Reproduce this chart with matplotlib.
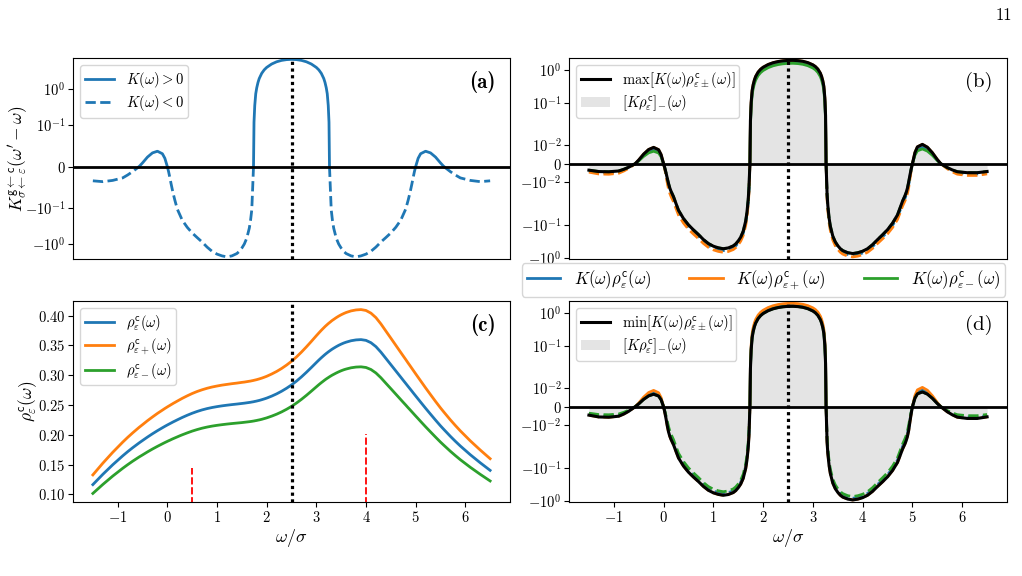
import numpy as np
import matplotlib
matplotlib.use("Agg")
import matplotlib.pyplot as plt
from matplotlib.ticker import FixedLocator, FixedFormatter, NullLocator
from matplotlib.lines import Line2D
from matplotlib.patches import Patch

plt.rcParams['font.family'] = 'serif'
plt.rcParams['font.serif'] = ['cmr10', 'DejaVu Serif']
plt.rcParams['mathtext.fontset'] = 'cm'
plt.rcParams['axes.formatter.use_mathtext'] = True
plt.rcParams['axes.unicode_minus'] = True

# ---------------- data ----------------
omega = [-1.5, -1.3, -1.1, -0.9, -0.8, -0.7, -0.57, -0.5, -0.4, -0.3, -0.2, -0.1, -0.05,
         0.0, 0.025, 0.05, 0.075, 0.1, 0.125, 0.15, 0.2, 0.25, 0.3, 0.4, 0.5, 0.6, 0.7, 0.8,
         0.9, 1.0, 1.1, 1.2, 1.3, 1.4, 1.45, 1.5, 1.55, 1.6, 1.65, 1.675, 1.7, 1.715,
         1.735, 1.745, 1.76, 1.78, 1.8, 1.825, 1.85, 1.9, 1.95, 2.0, 2.1, 2.2, 2.3, 2.4,
         2.5,
         2.6, 2.7, 2.8, 2.9, 3.0, 3.05, 3.1, 3.15, 3.175, 3.2, 3.22, 3.24, 3.255, 3.265,
         3.285, 3.3, 3.325, 3.35, 3.4, 3.45, 3.5, 3.55, 3.6, 3.7, 3.8, 3.9, 4.0, 4.1, 4.2,
         4.3, 4.4, 4.5, 4.6, 4.7, 4.75, 4.8, 4.85, 4.875, 4.9, 4.925, 4.95, 4.975, 5.0,
         5.05, 5.1, 5.2, 5.3, 5.4, 5.5, 5.57, 5.7, 5.8, 5.9, 6.1, 6.3, 6.5]

kernel = [-0.034, -0.036, -0.033, -0.027, -0.020, -0.012, 0.0, 0.009, 0.023, 0.033, 0.037, 0.031, 0.020,
          0.0, -0.012, -0.026, -0.041, -0.055, -0.068, -0.080, -0.105, -0.15, -0.215, -0.34, -0.49, -0.66, -0.88, -1.22,
          -1.60, -1.92, -2.15, -2.29, -2.15, -1.85, -1.6, -1.3, -1.0, -0.68, -0.36, -0.22, -0.11, -0.06,
          0.0, 0.12, 0.35, 0.75, 1.1, 1.55, 2.0, 2.8, 3.5, 4.1, 5.1, 5.9, 6.45, 6.78,
          6.9,
          6.78, 6.45, 5.9, 5.1, 4.1, 3.5, 2.8, 2.0, 1.55, 1.1, 0.75, 0.35, 0.12, 0.0,
          -0.06, -0.11, -0.22, -0.36, -0.68, -1.0, -1.3, -1.6, -1.85, -2.15, -2.29, -2.15, -1.92, -1.60, -1.22,
          -0.88, -0.66, -0.49, -0.34, -0.215, -0.15, -0.105, -0.080, -0.068, -0.055, -0.041, -0.026, -0.012, 0.0,
          0.020, 0.031, 0.037, 0.033, 0.023, 0.009, 0.0, -0.012, -0.020, -0.027, -0.033, -0.036, -0.034]

rho = [0.1163, 0.1335, 0.1496, 0.1645, 0.1715, 0.1781, 0.1862, 0.1903, 0.1961, 0.2016, 0.2068, 0.2117, 0.2141,
       0.2164, 0.2175, 0.2186, 0.2197, 0.2208, 0.2219, 0.2229, 0.2250, 0.2270, 0.2290, 0.2327, 0.2361, 0.2391, 0.2417, 0.2439,
       0.2457, 0.2472, 0.2485, 0.2496, 0.2506, 0.2515, 0.2520, 0.2525, 0.2530, 0.2536, 0.2542, 0.2545, 0.2549, 0.2551,
       0.2554, 0.2556, 0.2559, 0.2562, 0.2566, 0.2571, 0.2576, 0.2588, 0.2601, 0.2615, 0.2648, 0.2686, 0.2730, 0.2780,
       0.2836,
       0.2900, 0.2971, 0.3048, 0.3129, 0.3212, 0.3253, 0.3292, 0.3329, 0.3347, 0.3364, 0.3377, 0.3390, 0.3399, 0.3405,
       0.3417, 0.3426, 0.3440, 0.3453, 0.3478, 0.3501, 0.3521, 0.3539, 0.3554, 0.3578, 0.3592, 0.3597, 0.3584, 0.3545, 0.3479,
       0.3387, 0.3282, 0.3177, 0.3072, 0.2967, 0.2914, 0.2862, 0.2809, 0.2783, 0.2757, 0.2731, 0.2704, 0.2678, 0.2652,
       0.2600, 0.2548, 0.2445, 0.2345, 0.2246, 0.2150, 0.2087, 0.1973, 0.1890, 0.1811, 0.1665, 0.1530, 0.1402]

rho_plus = [0.1326, 0.1522, 0.1705, 0.1875, 0.1955, 0.2030, 0.2123, 0.2169, 0.2236, 0.2298, 0.2358, 0.2413, 0.2441,
            0.2467, 0.2480, 0.2492, 0.2505, 0.2517, 0.2530, 0.2541, 0.2565, 0.2588, 0.2611, 0.2653, 0.2692, 0.2726, 0.2755, 0.2780,
            0.2801, 0.2818, 0.2833, 0.2845, 0.2857, 0.2867, 0.2873, 0.2879, 0.2884, 0.2891, 0.2898, 0.2901, 0.2906, 0.2908,
            0.2912, 0.2914, 0.2917, 0.2921, 0.2925, 0.2931, 0.2937, 0.2950, 0.2965, 0.2981, 0.3019, 0.3062, 0.3112, 0.3169,
            0.3233,
            0.3306, 0.3387, 0.3475, 0.3567, 0.3662, 0.3708, 0.3753, 0.3795, 0.3816, 0.3835, 0.3850, 0.3865, 0.3875, 0.3882,
            0.3895, 0.3906, 0.3922, 0.3936, 0.3965, 0.3991, 0.4014, 0.4034, 0.4052, 0.4079, 0.4095, 0.4101, 0.4086, 0.4041, 0.3966,
            0.3861, 0.3741, 0.3622, 0.3502, 0.3382, 0.3322, 0.3263, 0.3202, 0.3173, 0.3143, 0.3113, 0.3083, 0.3053, 0.3023,
            0.2964, 0.2905, 0.2787, 0.2673, 0.2560, 0.2451, 0.2379, 0.2249, 0.2155, 0.2065, 0.1898, 0.1744, 0.1598]

rho_minus = [0.1015, 0.1165, 0.1306, 0.1436, 0.1497, 0.1555, 0.1626, 0.1661, 0.1712, 0.1760, 0.1805, 0.1848, 0.1869,
             0.1889, 0.1899, 0.1908, 0.1918, 0.1928, 0.1937, 0.1946, 0.1964, 0.1982, 0.1999, 0.2031, 0.2061, 0.2087, 0.2110, 0.2129,
             0.2145, 0.2158, 0.2169, 0.2179, 0.2188, 0.2196, 0.2200, 0.2204, 0.2209, 0.2214, 0.2219, 0.2222, 0.2225, 0.2227,
             0.2230, 0.2231, 0.2234, 0.2237, 0.2240, 0.2245, 0.2249, 0.2259, 0.2271, 0.2283, 0.2312, 0.2345, 0.2383, 0.2427,
             0.2476,
             0.2532, 0.2594, 0.2661, 0.2732, 0.2804, 0.2840, 0.2874, 0.2906, 0.2922, 0.2937, 0.2948, 0.2959, 0.2967, 0.2973,
             0.2983, 0.2991, 0.3003, 0.3014, 0.3036, 0.3056, 0.3074, 0.3090, 0.3103, 0.3124, 0.3136, 0.3140, 0.3129, 0.3095, 0.3037,
             0.2957, 0.2865, 0.2774, 0.2682, 0.2590, 0.2544, 0.2499, 0.2452, 0.2430, 0.2407, 0.2384, 0.2361, 0.2338, 0.2315,
             0.2270, 0.2224, 0.2134, 0.2047, 0.1961, 0.1877, 0.1822, 0.1722, 0.1650, 0.1581, 0.1454, 0.1336, 0.1224]

omega_ref = 2.5
marker_pos = [0.5, 4.0]
marker_top = [0.144, 0.202]

ticks_a = [-1.0, -0.1, 0.0, 0.1, 1.0]
ticklabels_a = [r'$\mathdefault{-10^{0}}$', r'$\mathdefault{-10^{-1}}$', r'$\mathdefault{0}$',
                r'$\mathdefault{10^{-1}}$', r'$\mathdefault{10^{0}}$']
ticks_bd = [-1.0, -0.1, -0.01, 0.0, 0.01, 0.1, 1.0]
ticklabels_bd = [r'$\mathdefault{-10^{0}}$', r'$\mathdefault{-10^{-1}}$', r'$\mathdefault{-10^{-2}}$',
                 r'$\mathdefault{0}$', r'$\mathdefault{10^{-2}}$', r'$\mathdefault{10^{-1}}$',
                 r'$\mathdefault{10^{0}}$']
ticks_c = [0.10, 0.15, 0.20, 0.25, 0.30, 0.35, 0.40]

w = np.array(omega)
K = np.array(kernel)
R = np.array(rho)
Rp = np.array(rho_plus)
Rm = np.array(rho_minus)

# --------------- compressed symmetric-log scale used by (b),(d) -------------
L0, A1, B2, LT = 18.7, 46.95, -4.65, 0.01


def fwd(y):
    y = np.asarray(y, dtype=float)
    t = np.abs(y)
    u = np.log10(np.maximum(t, LT) / LT)
    g = np.where(t <= LT, L0 * t / LT, L0 + A1 * u + B2 * u * u)
    return np.sign(y) * g


def inv(v):
    v = np.asarray(v, dtype=float)
    a = np.abs(v)
    disc = np.maximum(A1 * A1 + 4 * B2 * (a - L0), 0.0)
    u = (-A1 + np.sqrt(disc)) / (2 * B2)
    t = np.where(a <= L0, a / L0 * LT, LT * 10 ** u)
    return np.sign(v) * t


fig = plt.figure(figsize=(10.22, 5.76), dpi=100)
W, H = 1022.0, 576.0


def add_ax(x0, y0, x1, y1):
    return fig.add_axes([x0 / W, 1 - y1 / H, (x1 - x0) / W, (y1 - y0) / H])


axA = add_ax(73, 58, 510, 259)
axB = add_ax(569, 58, 1007, 259)
axC = add_ax(73, 301, 510, 502)
axD = add_ax(569, 301, 1007, 502)

C0, C1, C2 = '#1f77b4', '#ff7f0e', '#2ca02c'
fs_tick = 10.5
fs_leg = 10.5
leg_kw = dict(fontsize=fs_leg, labelspacing=0.25, borderpad=0.3, handletextpad=0.8)
dot_ls = (0, (1, 1.1))
grey = '#e4e4e4'

for ax in (axA, axB, axC, axD):
    ax.tick_params(axis='both', labelsize=fs_tick, pad=2)
    ax.set_xlim(-1.9, 6.9)

# ---------------- (a) ----------------
axA.set_yscale('symlog', linthresh=0.1, linscale=1.051)
axA.plot(w, np.where(K >= 0, K, np.nan), color=C0, lw=2, label=r'$K(\omega) > 0$')
axA.plot(w, np.where(K <= 0, K, np.nan), color=C0, lw=2, ls='--', label=r'$K(\omega) < 0$')
axA.axhline(0, color='k', lw=2)
axA.axvline(omega_ref, color='k', lw=2.3, ls=dot_ls)
axA.set_ylim(-2.63, 7.53)
axA.yaxis.set_major_locator(FixedLocator(ticks_a))
axA.yaxis.set_major_formatter(FixedFormatter(ticklabels_a))
axA.yaxis.set_minor_locator(NullLocator())
axA.tick_params(axis='x', bottom=False, labelbottom=False)
axA.set_ylabel(r'$K^{\mathsf{g}\leftarrow\mathsf{c}}_{\sigma\leftarrow\varepsilon}(\omega^{\prime}-\omega)$', fontsize=12.5)
axA.yaxis.set_label_coords(-0.098, 0.5)
axA.legend(loc='upper left', **leg_kw)
axA.text(0.967, 0.88, '(a)', transform=axA.transAxes, ha='right', va='center',
         fontsize=15, family=['cmb10', 'DejaVu Serif'])

# ---------------- (b) and (d) ----------------
prods = [K * R, K * Rp, K * Rm]
cols = [C0, C1, C2]
for ax, mode, tag in [(axB, 'max', '(b)'), (axD, 'min', '(d)')]:
    ax.set_yscale('function', functions=(fwd, inv))
    env = np.max(prods, axis=0) if mode == 'max' else np.min(prods, axis=0)
    ax.fill_between(w, 0, env, color=grey, lw=0, zorder=1)
    for p, c in zip(prods, cols):
        ax.plot(w, np.where(p >= 0, p, np.nan), color=c, lw=2, zorder=2)
        ax.plot(w, np.where(p <= 0, p, np.nan), color=c, lw=2, ls='--', zorder=2)
    ax.plot(w, env, color='k', lw=2.2, zorder=3)
    ax.axhline(0, color='k', lw=2, zorder=4)
    ax.axvline(omega_ref, color='k', lw=2.3, ls=dot_ls, zorder=4)
    ax.set_ylim(-1.11, 2.79)
    ax.yaxis.set_major_locator(FixedLocator(ticks_bd))
    ax.yaxis.set_major_formatter(FixedFormatter(ticklabels_bd))
    ax.yaxis.set_minor_locator(NullLocator())
    lab = (r'$\max[K(\omega)\rho^{\mathsf{c}}_{\varepsilon\pm}(\omega)]$' if mode == 'max'
           else r'$\min[K(\omega)\rho^{\mathsf{c}}_{\varepsilon\pm}(\omega)]$')
    handles = [Line2D([], [], color='k', lw=2.2),
               Patch(facecolor=grey, edgecolor='none')]
    ax.legend(handles, [lab, r'$[K\rho^{\mathsf{c}}_{\varepsilon}]_{-}(\omega)$'],
              loc='upper left', **leg_kw)
    ax.text(0.967, 0.88, tag, transform=ax.transAxes, ha='right', va='center',
            fontsize=15, family=['cmr10', 'DejaVu Serif'])

axB.tick_params(axis='x', bottom=False, labelbottom=False)
axD.set_xlabel(r'$\omega/\sigma$', fontsize=13, labelpad=2)

# ---------------- (c) ----------------
axC.plot(w, R, color=C0, lw=2, label=r'$\rho^{\mathsf{c}}_{\varepsilon}(\omega)$')
axC.plot(w, Rp, color=C1, lw=2, label=r'$\rho^{\mathsf{c}}_{\varepsilon+}(\omega)$')
axC.plot(w, Rm, color=C2, lw=2, label=r'$\rho^{\mathsf{c}}_{\varepsilon-}(\omega)$')
axC.axvline(omega_ref, color='k', lw=2.3, ls=dot_ls)
axC.vlines(marker_pos, 0, marker_top, colors='red', linestyles=(0, (4, 1.5)), lw=1.3)
axC.set_ylim(0.0871, 0.4245)
axC.set_yticks(ticks_c)
axC.set_xlabel(r'$\omega/\sigma$', fontsize=13, labelpad=2)
axC.set_ylabel(r'$\rho^{\mathsf{c}}_{\varepsilon}(\omega)$', fontsize=12.5)
axC.yaxis.set_label_coords(-0.078, 0.5)
axC.legend(loc='upper left', **leg_kw)
axC.text(0.967, 0.88, '(c)', transform=axC.transAxes, ha='right', va='center',
         fontsize=15, family=['cmb10', 'DejaVu Serif'])

# ---------------- shared legend ----------------
mid_handles = [Line2D([], [], color=c, lw=2) for c in cols]
mid_labels = [r'$K(\omega)\rho^{\mathsf{c}}_{\varepsilon}(\omega)$',
              r'$K(\omega)\rho^{\mathsf{c}}_{\varepsilon+}(\omega)$',
              r'$K(\omega)\rho^{\mathsf{c}}_{\varepsilon-}(\omega)$']
fig.legend(mid_handles, mid_labels, loc='center', bbox_to_anchor=(763.5 / W, 1 - 280 / H),
           ncol=3, fontsize=12, columnspacing=2.3, borderpad=0.3)

fig.text(1012 / W, 1 - 8 / H, '11', ha='right', va='top', fontsize=12)

fig.savefig('out.png', dpi=100)
